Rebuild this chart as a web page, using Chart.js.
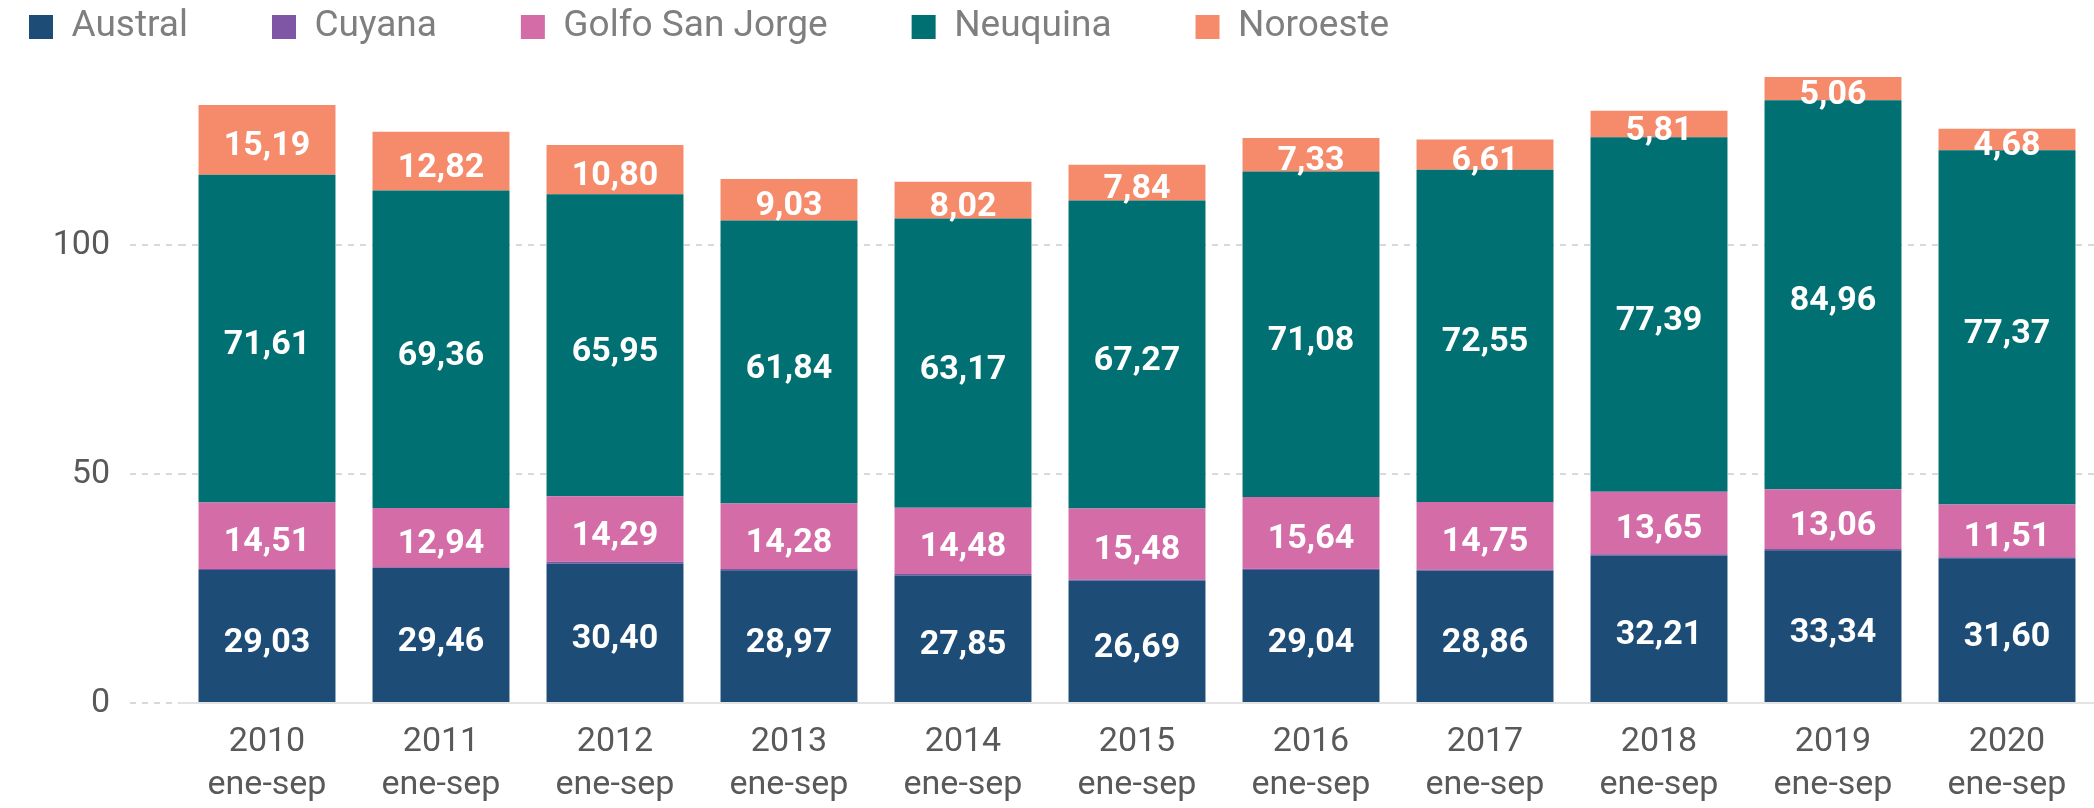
<!DOCTYPE html>
<html>
<head>
<meta charset="utf-8">
<script src="https://cdn.jsdelivr.net/npm/chart.js@4.4.1/dist/chart.umd.min.js"></script>
<style>
  html, body { margin: 0; padding: 0; background: #fff; }
  #wrap { width: 2094px; height: 808px; position: relative; }
</style>
</head>
<body>
<div id="wrap"><canvas id="chart"></canvas></div>
<script>
const categories = [
  ['2010', 'ene-sep'], ['2011', 'ene-sep'], ['2012', 'ene-sep'], ['2013', 'ene-sep'],
  ['2014', 'ene-sep'], ['2015', 'ene-sep'], ['2016', 'ene-sep'], ['2017', 'ene-sep'],
  ['2018', 'ene-sep'], ['2019', 'ene-sep'], ['2020', 'ene-sep']
];
const austral  = [29.03, 29.46, 30.40, 28.97, 27.85, 26.69, 29.04, 28.86, 32.21, 33.34, 31.60];
const cuyana   = [0.25, 0.2, 0.45, 0.3, 0.3, 0.3, 0.3, 0.3, 0.3, 0.3, 0.25];
const golfo    = [14.51, 12.94, 14.29, 14.28, 14.48, 15.48, 15.64, 14.75, 13.65, 13.06, 11.51];
const neuquina = [71.61, 69.36, 65.95, 61.84, 63.17, 67.27, 71.08, 72.55, 77.39, 84.96, 77.37];
const noroeste = [15.19, 12.82, 10.80, 9.03, 8.02, 7.84, 7.33, 6.61, 5.81, 5.06, 4.68];
const yTicks = [0, 50, 100];

const FONT = 'Roboto, "Noto Sans", sans-serif';
const LEGEND_FONT = 37;
const LEGEND_GAP = 84;

// draws the white value labels in the middle of each segment
const valueLabels = {
  id: 'valueLabels',
  afterDatasetsDraw(chart) {
    const ctx = chart.ctx;
    ctx.save();
    ctx.fillStyle = '#ffffff';
    ctx.font = 'bold 34px ' + FONT;
    ctx.textAlign = 'center';
    ctx.textBaseline = 'middle';
    chart.data.datasets.forEach((ds, i) => {
      if (ds.noLabels) return;
      const meta = chart.getDatasetMeta(i);
      meta.data.forEach((bar, j) => {
        const v = ds.data[j];
        const mid = (bar.y + bar.base) / 2;
        ctx.fillText(v.toFixed(2).replace('.', ','), bar.x, mid + 7);
      });
    });
    ctx.restore();
  }
};

// the legend's padding is used for the gap between items, so pull the
// drawing back up/left to sit tight in the corner like the original
const legendTweak = {
  id: 'legendTweak',
  afterInit(chart) {
    const lg = chart.legend;
    if (!lg) return;
    const origDraw = lg.draw.bind(lg);
    lg.draw = function () {
      const t = this.top, l = this.left;
      this.top = t + 27 - (LEGEND_GAP + LEGEND_FONT / 2);
      this.left = l + 29 - (20 + LEGEND_GAP);
      origDraw();
      this.top = t;
      this.left = l;
    };
  }
};

new Chart(document.getElementById('chart'), {
  type: 'bar',
  data: {
    labels: categories,
    datasets: [
      { label: 'Austral', data: austral, backgroundColor: '#1d4d76' },
      { label: 'Cuyana', data: cuyana, backgroundColor: '#7f56a5', noLabels: true },
      { label: 'Golfo San Jorge', data: golfo, backgroundColor: '#d46ca8' },
      { label: 'Neuquina', data: neuquina, backgroundColor: '#007072' },
      { label: 'Noroeste', data: noroeste, backgroundColor: '#f68b6b' }
    ]
  },
  options: {
    responsive: true,
    maintainAspectRatio: false,
    animation: false,
    layout: { padding: { left: 20, right: 0, top: 0, bottom: 0 } },
    datasets: {
      bar: { categoryPercentage: 1.0, barPercentage: 0.787, borderWidth: 0 }
    },
    plugins: {
      tooltip: { enabled: false },
      legend: {
        position: 'top',
        align: 'start',
        maxHeight: 62,
        labels: {
          boxWidth: 24,
          boxHeight: 24,
          padding: LEGEND_GAP,
          color: '#7f7f7f',
          font: { family: FONT, size: LEGEND_FONT }
        }
      }
    },
    scales: {
      x: {
        stacked: true,
        grid: { display: false, drawTicks: false },
        border: { display: true, color: '#e3e3e3', width: 2 },
        ticks: {
          color: '#595959',
          padding: 18,
          font: { family: FONT, size: 34, lineHeight: 1.27 }
        },
        afterFit(scale) { scale.height = 105; }
      },
      y: {
        stacked: true,
        min: 0,
        max: 140,
        afterBuildTicks(scale) {
          scale.ticks = yTicks.map(v => ({ value: v }));
        },
        grid: {
          color: '#d9d9d9',
          lineWidth: 2,
          tickLength: 50,
          tickColor: '#d9d9d9',
          tickBorderDash: [6, 6]
        },
        border: { display: false, dash: [6, 6] },
        ticks: {
          color: '#595959',
          padding: 20,
          font: { family: FONT, size: 34 }
        },
        afterFit(scale) { scale.width = 160; }
      }
    }
  },
  plugins: [valueLabels, legendTweak]
});
</script>
</body>
</html>
